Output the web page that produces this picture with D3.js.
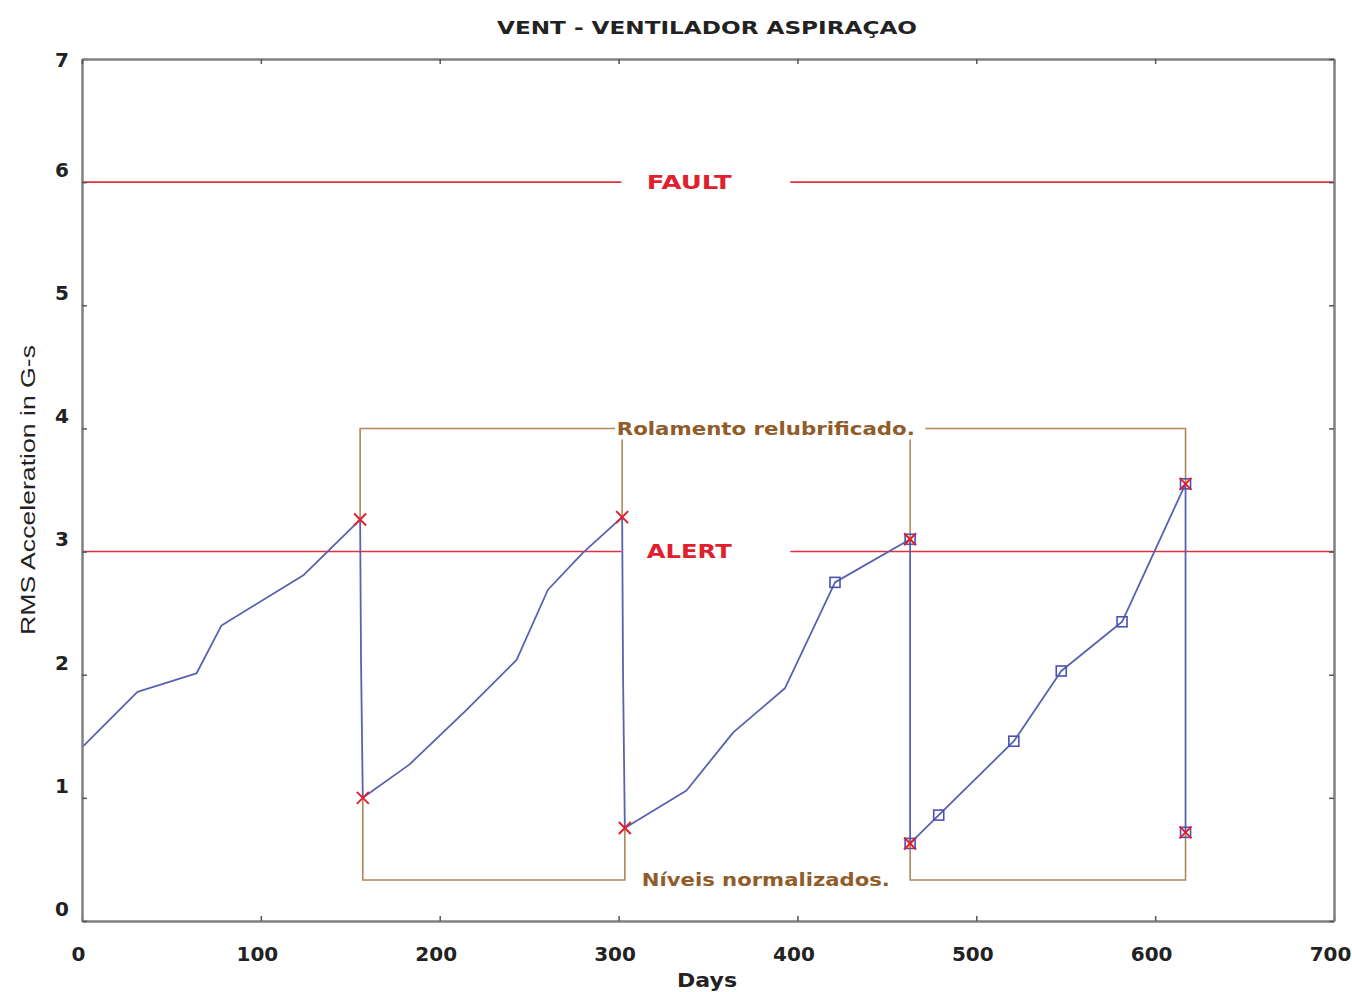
<!DOCTYPE html>
<meta charset="utf-8">
<style>
body { margin: 0; background: #fff; }
.axis path, .axis line { stroke: #808080; }
.axis path { stroke-width: 2.5px; }
.axis line { stroke-width: 1.5px; stroke: #555; }
.axis text { font-family: "DejaVu Sans", sans-serif; font-weight: bold; font-size: 20px; fill: #222; }
.trend { fill: none; stroke: #5a62b0; stroke-width: 1.8px; stroke-linejoin: round; }
.limit { stroke: #e2303c; stroke-width: 1.6px; }
.limit-label { fill: #e0202e; font-family: "DejaVu Sans", sans-serif; font-weight: bold; font-size: 19px; }
.bracket { fill: none; stroke: #b08858; stroke-width: 1.6px; }
.note { fill: #8f5c2a; font-family: "DejaVu Sans", sans-serif; font-weight: bold; font-size: 17px; }
.xmark { stroke: #e0202e; stroke-width: 2px; }
.sq { fill: none; stroke: #4a52b0; stroke-width: 1.6px; }
</style>
<body>
<div id="chart"></div>
<script src="https://d3js.org/d3.v7.min.js"></script>
<script>

// trend of RMS acceleration, days vs G-s
var days   = [0, 31, 64, 78, 124, 155.5, 156, 157, 183, 214, 243, 260.5, 280, 302, 302.5, 303.5, 338, 364, 393, 421, 463, 463, 479, 521, 547.5, 581.5, 617, 617];
var values = [1.41, 1.86, 2.01, 2.40, 2.81, 3.26, 2.12, 1.00, 1.27, 1.70, 2.12, 2.69, 2.99, 3.28, 2.00, 0.755, 1.06, 1.53, 1.89, 2.75, 3.10, 0.63, 0.86, 1.46, 2.03, 2.43, 3.55, 0.72];

// red crosses (before / after relubrication)
var crossDays   = [155.5, 157, 302, 303.5, 463, 463, 617, 617];
var crossValues = [3.26, 1.00, 3.28, 0.755, 3.10, 0.63, 3.55, 0.72];

// blue square markers on the last measurements
var squareDays   = [421, 463, 463, 479, 521, 547.5, 581.5, 617, 617];
var squareValues = [2.75, 3.10, 0.63, 0.86, 1.46, 2.03, 2.43, 3.55, 0.72];

// alarm levels
var limitNames  = ["FAULT", "ALERT"];
var limitValues = [6, 3];

var xTicks = [0, 100, 200, 300, 400, 500, 600, 700];
var yTicks = [0, 1, 2, 3, 4, 5, 6, 7];

var width = 1352, height = 992;

var x = d3.scaleLinear().domain([0, 700]).range([82, 1334]);
var y = d3.scaleLinear().domain([0, 7]).range([921, 59]);

var svg = d3.select("#chart").append("svg")
    .attr("width", width)
    .attr("height", height);

// limit lines with a gap for the label
limitValues.forEach(function(v, i) {
    svg.append("line").attr("class", "limit")
        .attr("x1", x(0)).attr("x2", x(301.5))
        .attr("y1", y(v)).attr("y2", y(v));
    svg.append("line").attr("class", "limit")
        .attr("x1", x(396)).attr("x2", x(700))
        .attr("y1", y(v)).attr("y2", y(v));
    svg.append("text").attr("class", "limit-label")
        .attr("x", x(339.5))
        .attr("y", y(v))
        .attr("dy", "0.36em")
        .attr("text-anchor", "middle")
        .attr("textLength", 85)
        .attr("lengthAdjust", "spacingAndGlyphs")
        .text(limitNames[i]);
});

// brackets for the annotations
var topLevel = 4, topStub = 3.91, lowLevel = 0.333;
var bracketPaths = [
    [[155.5, 3.26], [155.5, topLevel], [298, topLevel]],
    [[471.5, topLevel], [617, topLevel], [617, 3.55]],
    [[302, topStub], [302, 3.28]],
    [[463, topStub], [463, 3.10]],
    [[157, 1.00], [157, lowLevel], [303.5, lowLevel], [303.5, 0.755]],
    [[463, 0.63], [463, lowLevel], [617, lowLevel], [617, 0.72]]
];
var bline = d3.line().x(function(d) { return x(d[0]); }).y(function(d) { return y(d[1]); });
svg.selectAll(".bracket").data(bracketPaths).enter().append("path")
    .attr("class", "bracket")
    .attr("d", bline);

svg.append("text").attr("class", "note")
    .attr("x", x(299))
    .attr("y", y(topLevel))
    .attr("dy", "0.36em")
    .attr("textLength", 298)
    .attr("lengthAdjust", "spacingAndGlyphs")
    .text("Rolamento relubrificado.");

svg.append("text").attr("class", "note")
    .attr("x", x(313))
    .attr("y", y(lowLevel))
    .attr("dy", "0.36em")
    .attr("textLength", 248)
    .attr("lengthAdjust", "spacingAndGlyphs")
    .text("Níveis normalizados.");

// trend line
var line = d3.line()
    .x(function(d, i) { return x(days[i]); })
    .y(function(d) { return y(d); });

svg.append("path")
    .datum(values)
    .attr("class", "trend")
    .attr("d", line);

// square markers
svg.selectAll(".sq").data(squareDays).enter().append("rect")
    .attr("class", "sq")
    .attr("x", function(d) { return x(d) - 5; })
    .attr("y", function(d, i) { return y(squareValues[i]) - 5; })
    .attr("width", 10)
    .attr("height", 10);

// cross markers
var crosses = svg.selectAll(".cross").data(crossDays).enter().append("g")
    .attr("class", "cross")
    .attr("transform", function(d, i) { return "translate(" + x(d) + "," + y(crossValues[i]) + ")"; });
crosses.append("line").attr("class", "xmark").attr("x1", -6).attr("y1", -6).attr("x2", 6).attr("y2", 6);
crosses.append("line").attr("class", "xmark").attr("x1", -6).attr("y1", 6).attr("x2", 6).attr("y2", -6);

// axes, ticks pointing inward
var xAxis = svg.append("g").attr("class", "axis")
    .attr("transform", "translate(0," + y(0) + ")")
    .call(d3.axisBottom(x).tickValues(xTicks).tickFormat(d3.format("d")).tickSizeInner(-5).tickSizeOuter(0).tickPadding(26));
xAxis.selectAll("text").attr("dx", -4);

var yAxis = svg.append("g").attr("class", "axis")
    .attr("transform", "translate(" + x(0) + ",0)")
    .call(d3.axisLeft(y).tickValues(yTicks).tickFormat(d3.format("d")).tickSizeInner(-5).tickSizeOuter(0).tickPadding(13));
// labels sit a bit above their ticks, the top one stays level with the frame
yAxis.selectAll("text").attr("y", function(d) { return d === 7 ? 1 : -12; });

svg.append("g").attr("class", "axis")
    .attr("transform", "translate(0," + y(7) + ")")
    .call(d3.axisTop(x).tickValues(xTicks).tickSizeInner(-5).tickSizeOuter(0).tickFormat(""));

svg.append("g").attr("class", "axis")
    .attr("transform", "translate(" + x(700) + ",0)")
    .call(d3.axisRight(y).tickValues(yTicks).tickSizeInner(-5).tickSizeOuter(0).tickFormat(""));

// titles
svg.append("text")
    .attr("x", 707).attr("y", 28)
    .attr("dy", "0.36em")
    .attr("text-anchor", "middle")
    .attr("textLength", 420)
    .attr("lengthAdjust", "spacingAndGlyphs")
    .style("font-family", "DejaVu Sans, sans-serif")
    .style("font-weight", "bold")
    .style("font-size", "18px")
    .style("fill", "#222")
    .text("VENT - VENTILADOR ASPIRAÇAO");

svg.append("text")
    .attr("x", 707).attr("y", 980)
    .attr("dy", "0.36em")
    .attr("text-anchor", "middle")
    .attr("textLength", 60)
    .attr("lengthAdjust", "spacingAndGlyphs")
    .style("font-family", "DejaVu Sans, sans-serif")
    .style("font-weight", "bold")
    .style("font-size", "19px")
    .style("fill", "#222")
    .text("Days");

svg.append("text")
    .attr("transform", "translate(28,490) rotate(-90)")
    .attr("dy", "0.36em")
    .attr("text-anchor", "middle")
    .attr("textLength", 290)
    .attr("lengthAdjust", "spacingAndGlyphs")
    .style("font-family", "Liberation Sans, Arial, sans-serif")
    .style("font-size", "20px")
    .style("fill", "#222")
    .text("RMS Acceleration in G-s");

</script>
</body>
